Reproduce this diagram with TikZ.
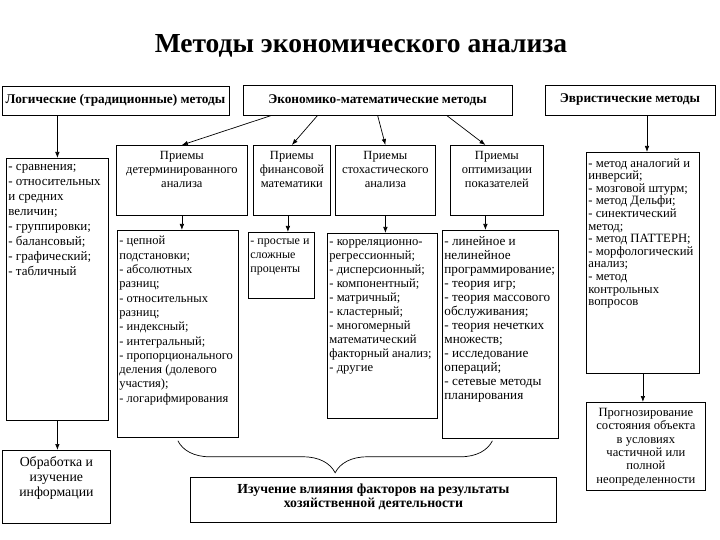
\documentclass[tikz,border=0pt]{standalone}
\usepackage{fontspec}
\setmainfont{Liberation Serif}
\usetikzlibrary{arrows.meta,calc,decorations.pathreplacing}
% name, x1, y1, x2, y2, text, font
\newcommand\tb[7]{\node[tbx,font=#7] (#1) at (#2,#3) {\parbox[c][\dimexpr#5pt-#3pt-12pt\relax][t]{\dimexpr#4pt-#2pt-4pt\relax}{#6}};}
\tikzset{
  tbx/.style={draw, anchor=north west, inner xsep=2pt, inner ysep=6pt, line width=0.8pt},
  headbox/.style={draw, line width=0.8pt, font=\fontsize{13.3}{15}\selectfont\bfseries},
  arr/.style={-{Latex[length=6pt,width=4.5pt]}, line width=0.7pt},
}
\begin{document}
\begin{tikzpicture}[x=1pt,y=-1pt]
\useasboundingbox (0,0) rectangle (720,540);
\node[font=\fontsize{27.5}{32}\selectfont\bfseries] (title) at (361,46) {Методы экономического анализа};

\node[headbox, minimum width=227pt, minimum height=29pt] (L) at (115.5,100.5) {Логические (традиционные) методы};
\node[headbox, minimum width=269pt, minimum height=30pt] (E) at (377.5,100) {Экономико-математические методы};
\node[headbox, minimum width=170pt, minimum height=30pt] (H) at (630,100) {Эвристические методы};

\tb{LL}{6}{158}{108}{420}{\raggedright - сравнения;\\- относительных\\и средних\\величин;\\- группировки;\\- балансовый;\\- графический;\\- табличный}{\fontsize{13}{15}\selectfont}
\tb{O}{2}{450}{110}{523}{\centering Обработка и\\изучение\\информации}{\fontsize{13.8}{15}\selectfont}

\tb{P1}{116}{145}{247}{215}{\centering Приемы\\детерминированного\\анализа}{\fontsize{12.5}{14}\selectfont}
\tb{P2}{253}{145}{330}{215}{\centering Приемы\\финансовой\\математики}{\fontsize{12.5}{14}\selectfont}
\tb{P3}{335}{145}{435}{215}{\centering Приемы\\стохастического\\анализа}{\fontsize{12.5}{14}\selectfont}
\tb{P4}{450}{145}{543}{215}{\centering Приемы\\оптимизации\\показателей}{\fontsize{12.5}{14}\selectfont}

\tb{D1}{117}{230}{238}{437}{\raggedright - цепной\\подстановки;\\- абсолютных\\разниц;\\- относительных\\разниц;\\- индексный;\\- интегральный;\\-~пропорционального\\деления (долевого\\участия);\\- логарифмирования}{\fontsize{12.5}{14.3}\selectfont}
\tb{D2}{248}{232}{314}{298}{\raggedright -~простые~и\\сложные\\проценты}{\fontsize{12}{14}\selectfont}
\tb{D3}{327}{233}{437}{418}{\raggedright - корреляционно-\\регрессионный;\\- дисперсионный;\\- компонентный;\\- матричный;\\- кластерный;\\- многомерный\\математический\\факторный~анализ;\\- другие}{\fontsize{12.6}{14}\selectfont}
\tb{D4}{442}{230}{558}{438}{\raggedright - линейное и\\нелинейное\\программирование;\\- теория игр;\\- теория массового\\обслуживания;\\- теория нечетких\\множеств;\\- исследование\\операций;\\- сетевые методы\\планирования}{\fontsize{13.2}{14}\selectfont}

\tb{HL}{586}{152}{699}{373}{\raggedright -~метод~аналогий~и\\инверсий;\\- мозговой штурм;\\- метод Дельфи;\\- синектический\\метод;\\- метод ПАТТЕРН;\\-~морфологический\\анализ;\\- метод\\контрольных\\вопросов}{\fontsize{12.7}{12.6}\selectfont}
\tb{F}{586}{402}{705}{490}{\centering Прогнозирование\\состояния объекта\\в условиях\\частичной или\\полной\\неопределенности}{\fontsize{12.6}{13.3}\selectfont}

\tb{B}{190}{477}{556}{522}{\centering\vspace*{1pt}Изучение влияния факторов на результаты\\хозяйственной деятельности}{\fontsize{13.8}{13.5}\selectfont\bfseries}

% connectors
\draw[arr] (LL.north |- L.south) -- (LL.north);
\draw[arr] (LL.south) -- (LL.south |- O.north);
\draw[arr] ($(E.south west)+(29,0)$) -- (P1.north);
\draw[arr] ($(E.south west)+(75,0)$) -- (P2.north);
\draw[arr] ($(E.south west)+(135,0)$) -- (P3.north);
\draw[arr] ($(E.south west)+(204,0)$) -- ($(P4.north)+(-11.5,0)$);
\draw[arr] (P1.south) -- (P1.south |- D1.north);
\draw[arr] ($(P2.south)+(-4,0)$) -- ($(P2.south |- D2.north)+(-4,0)$);
\draw[arr] (P3.south) -- (P3.south |- D3.north);
\draw[arr] ($(P4.south)+(-11.5,0)$) -- ($(P4.south |- D4.north)+(-11.5,0)$);
\draw[arr] ($(H.south)+(17,0)$) -- ($(H.south |- HL.north)+(17,0)$);
\draw[arr] (HL.south) -- (HL.south |- F.north);
\draw[line width=0.7pt, decorate, decoration={brace, mirror, amplitude=32pt}] ($(D1.south)+(0,3)$) -- ($(D4.south)+(-8,2)$);
\end{tikzpicture}
\end{document}
